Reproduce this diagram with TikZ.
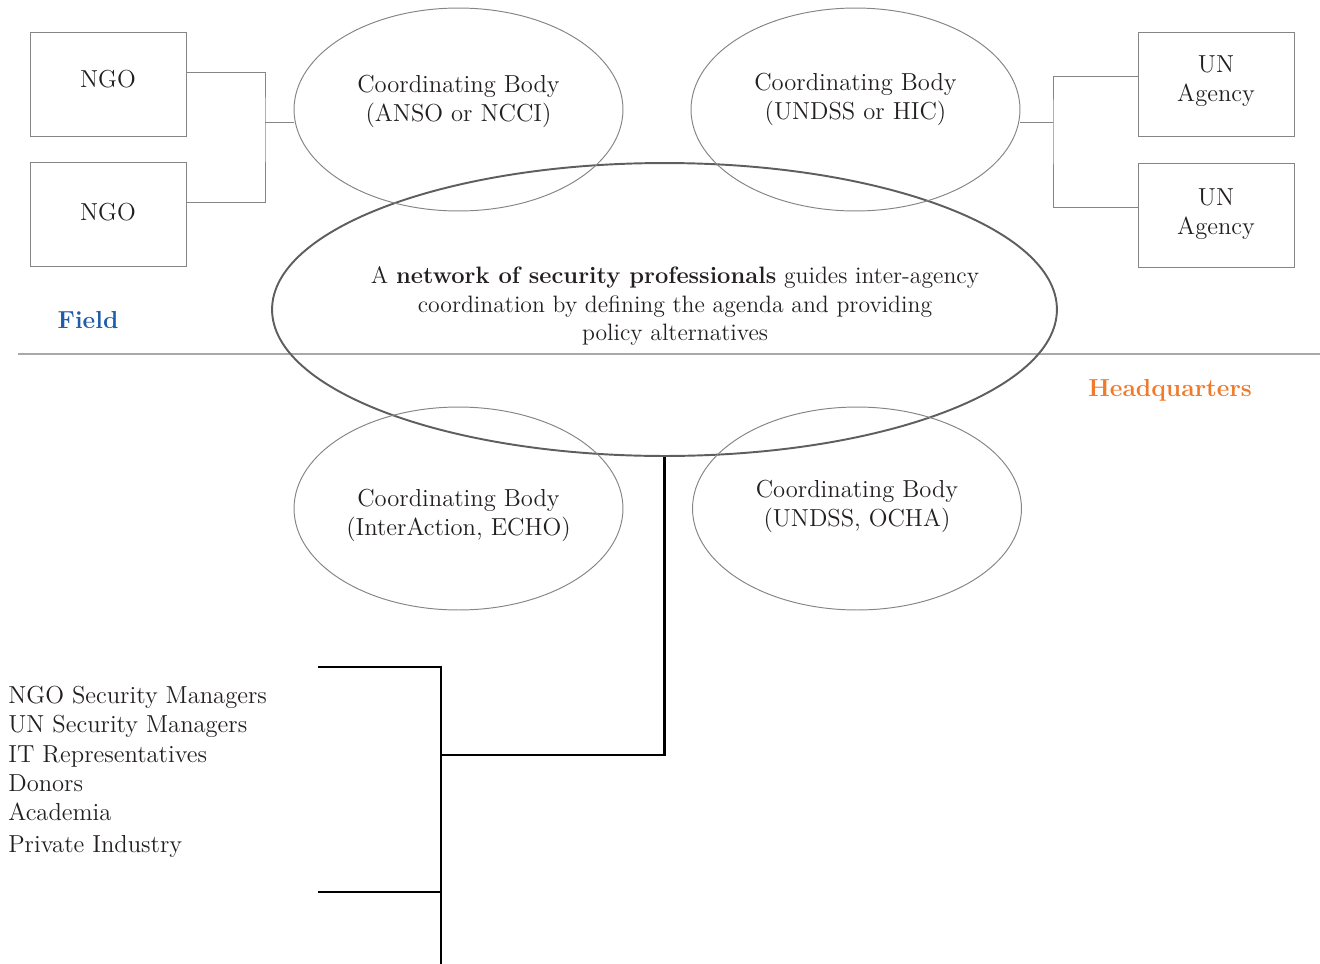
\documentclass[tikz,border=0pt]{standalone}
\usepackage{tikz}
\usetikzlibrary{positioning, shapes.geometric, calc}
\definecolor{trazo}{HTML}{858585}
\definecolor{oscuro}{HTML}{5E5E5E}
\definecolor{divisor}{HTML}{A7A9AC}
\definecolor{texto}{HTML}{231F20}
\definecolor{campo}{HTML}{1F5DA8}
\definecolor{sede}{HTML}{F07A2A}

\begin{document}
\begin{tikzpicture}[x=0.02cm, y=-0.02cm, font=\fontsize{14}{16.5}\selectfont, text=texto,
		caja/.style={draw=trazo, line width=0.5pt, minimum width=3.12cm, minimum height=2.08cm},
		cuerpo/.style={ellipse, draw=trazo, line width=0.55pt, minimum width=6.58cm,
		               minimum height=4.06cm, inner sep=0pt},
		rotulo/.style={align=center, text=texto, inner sep=0pt},
		enlace/.style={draw=trazo, line width=0.5pt},
		lazo/.style={draw=black, line width=1.2pt}]
	\useasboundingbox (0,0) rectangle (1320,964);
	% field / headquarters split
	\draw[divisor, line width=1.2pt] (18,354) -- (1320,354);
	\node[font=\fontsize{14}{16}\selectfont\bfseries, text=campo] (field) at (88,320) {Field};
	\node[font=\fontsize{14}{16}\selectfont\bfseries, text=sede] (hq) at (1170,390) {Headquarters};
	% network in the middle
	\node[ellipse, draw=oscuro, line width=1.1pt, minimum width=15.7cm, minimum height=5.86cm] (net) at (664.5,309.5) {};
	\node[align=center, font=\fontsize{13.5}{16.2}\selectfont] (nettxt) at (675,306)
		{A \textbf{network of security professionals} guides inter-agency\\
		 coordination by defining the agenda and providing\\
		 policy alternatives};
	% coordinating bodies
	\node[cuerpo, label={[rotulo, yshift=4.5pt]center:{Coordinating Body\\(ANSO or NCCI)}}] (anso) at (458.5,109.5) {};
	\node[cuerpo, label={[rotulo, yshift=5.5pt]center:{Coordinating Body\\(UNDSS or HIC)}}] (undss) at (855.5,109.5) {};
	\node[cuerpo, label={[rotulo, yshift=-4.1pt]center:{Coordinating Body\\(InterAction, ECHO)}}] (inter) at (458.5,508.5) {};
	\node[cuerpo, label={[rotulo, yshift=1pt]center:{Coordinating Body\\(UNDSS, OCHA)}}] (ocha) at (857,508.5) {};
	% field agencies
	\node[caja, label={[rotulo, yshift=2.8pt]center:NGO}] (ngoA) at (108,84) {};
	\node[caja, label={[rotulo, yshift=1.2pt]center:NGO}] (ngoB) at (108,214) {};
	\node[caja, label={[rotulo, yshift=1.7pt]center:{UN\\Agency}}] (unA) at (1216,84) {};
	\node[caja, label={[rotulo, yshift=0.8pt]center:{UN\\Agency}}] (unB) at (1216,215.5) {};
	\coordinate (jl) at (265,122);
	\coordinate (jr) at (1053,122);
	\draw[enlace] ([shift={(0,-12)}]ngoA.east) -| (jl) |- ([shift={(0,-12)}]ngoB.east);
	\draw[enlace] (jl) -- (anso.west |- jl);
	\draw[enlace] ([shift={(0,-8)}]unA.west) -| (jr) |- ([shift={(0,-8)}]unB.west);
	\draw[enlace] (jr) -- (undss.east |- jr);
	% members of the network
	\node[align=left, anchor=north west, inner sep=0pt,
	      font=\fontsize{14}{16.6}\selectfont] (miembros) at (8,686)
		{NGO Security Managers\\UN Security Managers\\IT Representatives\\Donors\\Academia\\[1.5pt]Private Industry};
	\coordinate (bt) at (318,667);
	\coordinate (bb) at (318,892);
	\coordinate (bend) at (441,964);
	\draw[lazo] (bt) -| (bend);
	\draw[lazo] (bb) -- (bb -| bend);
	\draw[lazo] (net.south) |- (bend |- 0,755);
\end{tikzpicture}
\end{document}
